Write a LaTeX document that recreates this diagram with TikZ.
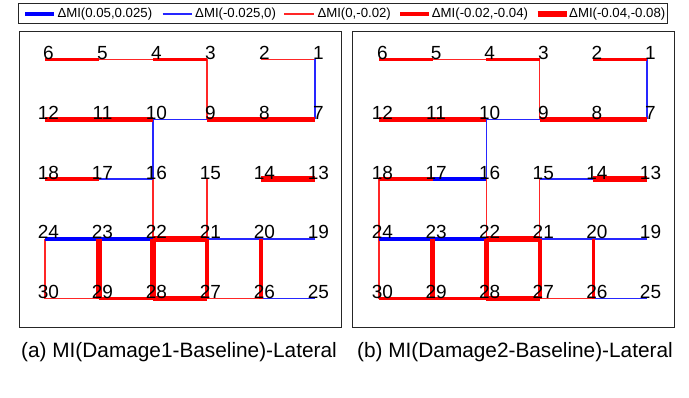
\documentclass[tikz,border=0pt]{standalone}
\usepackage{fontspec}
\setmainfont{Liberation Sans}
\begin{document}
\begin{tikzpicture}[x=1pt,y=-1pt,
  frame/.style={draw=black!85,line width=0.9pt},
  tr/.style={draw=red!85!white,line width=1.3pt},
  mr/.style={draw=red,line width=3.4pt},
  kr/.style={draw=red,line width=5.3pt},
  tb/.style={draw=blue!85!white,line width=1.3pt},
  kb/.style={draw=blue,line width=3.4pt},
  lab/.style={inner sep=0pt,anchor=base,font=\fontsize{19}{19}\selectfont},
  leg/.style={inner sep=0pt,anchor=base west,font=\fontsize{13.2}{13.2}\selectfont},
  captext/.style={inner sep=0pt,anchor=base,font=\fontsize{20.8}{20.8}\selectfont}]
\useasboundingbox (0,0) rectangle (689,398);
% legend
\draw[frame] (18,3) rectangle (667,23.5);
\coordinate (g1a) at (25,14); \coordinate (g1b) at (54.3,14);
\coordinate (g2a) at (162.7,14); \coordinate (g2b) at (191.7,14);
\coordinate (g3a) at (284.3,14); \coordinate (g3b) at (314,14);
\coordinate (g4a) at (400,14); \coordinate (g4b) at (429.3,14);
\coordinate (g5a) at (537.7,14); \coordinate (g5b) at (566.7,14);
\draw[kb] (g1a) -- (g1b);
\draw[tb] (g2a) -- (g2b);
\draw[tr] (g3a) -- (g3b);
\draw[mr] (g4a) -- (g4b);
\draw[kr] (g5a) -- (g5b);
\node[leg] (lg1) at (57.3,18) {ΔMI(0.05,0.025)};
\node[leg] (lg2) at (195,18) {ΔMI(-0.025,0)};
\node[leg] (lg3) at (317.3,18) {ΔMI(0,-0.02)};
\node[leg] (lg4) at (431.7,18) {ΔMI(-0.02,-0.04)};
\node[leg] (lg5) at (569,18) {ΔMI(-0.04,-0.08)};
% panels
\draw[frame] (19,31) rectangle (341,327);
\draw[frame] (352,31) rectangle (674,327);
\foreach \k in {1,...,30}{
  \pgfmathtruncatemacro\r{int((\k-1)/6)}
  \pgfmathtruncatemacro\c{mod(\k-1,6)}
  \coordinate (a\k) at ({45+(5-\c)*54},{59.5+\r*59.8});
  \coordinate (b\k) at ({379+(5-\c)*53.6},{59.5+\r*59.8});
}
% panel (a)
\foreach \u/\v in {5/4,3/9,2/1,16/22,15/21,24/30,30/29,27/26} \draw[tr] (a\u) -- (a\v);
\foreach \u/\v in {1/7,10/9,10/16,17/16,21/20,20/19,26/25} \draw[tb] (a\u) -- (a\v);
\foreach \u/\v in {24/23,23/22} \draw[kb] (a\u) -- (a\v);
\foreach \u/\v in {6/5,4/3,18/17,21/27,20/26,29/28} \draw[mr] (a\u) -- (a\v);
\foreach \u/\v in {12/11,11/10,9/8,8/7,14/13,22/21,23/29,22/28,28/27} \draw[kr] (a\u) -- (a\v);
% panel (b)
\foreach \u/\v in {5/4,3/9,18/24,16/22,15/21,24/30,27/26} \draw[tr] (b\u) -- (b\v);
\foreach \u/\v in {1/7,10/9,10/16,15/14,21/20,20/19,26/25} \draw[tb] (b\u) -- (b\v);
\foreach \u/\v in {17/16,24/23,23/22} \draw[kb] (b\u) -- (b\v);
\foreach \u/\v in {6/5,4/3,2/1,18/17,21/27,20/26,30/29,29/28} \draw[mr] (b\u) -- (b\v);
\foreach \u/\v in {12/11,11/10,9/8,8/7,14/13,22/21,23/29,22/28,28/27} \draw[kr] (b\u) -- (b\v);
% labels
\foreach \k in {1,...,30}{
  \node[lab] (la\k) at ([xshift=3.5pt]a\k) {\k};
  \node[lab] (lb\k) at ([xshift=3.5pt]b\k) {\k};
}
% captions
\node[captext] (capa) at (179,358) {(a) MI(Damage1-Baseline)-Lateral};
\node[captext] (capb) at (515,358) {(b) MI(Damage2-Baseline)-Lateral};
\end{tikzpicture}
\end{document}
